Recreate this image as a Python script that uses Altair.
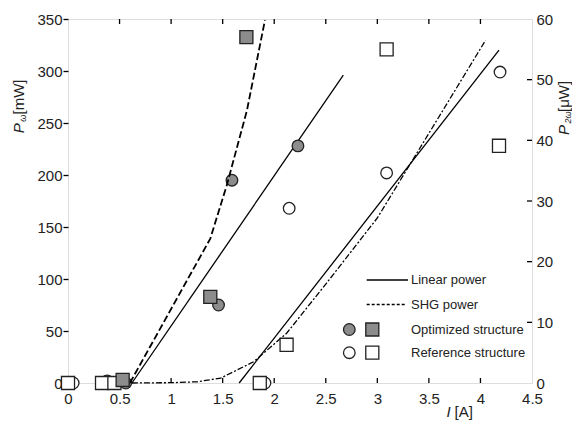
import altair as alt
import pandas as pd

# ---------------- data ----------------
# Linear (fundamental) power fits, left axis [mW]
opt_lin_x = [0.62, 2.67]
opt_lin_y = [0.0, 296.0]
ref_lin_x = [1.66, 4.18]
ref_lin_y = [0.0, 320.0]

# SHG power fits, right axis [uW]
opt_shg_x = [0.60, 1.38, 1.54, 1.735, 1.91]
opt_shg_y = [0.0, 23.8, 32.6, 44.9, 59.8]
ref_shg_x = [0.62, 1.00, 1.25, 1.48, 1.80, 2.12, 2.50, 3.00, 4.05]
ref_shg_y = [0.0, 0.05, 0.2, 0.8, 3.5, 8.2, 16.3, 27.2, 56.5]

# measured linear power (circles), left axis [mW]
opt_circ_x = [0.38, 0.56, 1.46, 1.59, 2.23]
opt_circ_y = [2.0, 0.0, 75.0, 195.0, 228.0]
ref_circ_x = [0.05, 1.91, 2.145, 3.09, 4.19]
ref_circ_y = [0.0, 0.0, 168.0, 202.0, 299.0]

# measured SHG power (squares), right axis [uW]
opt_sq_x = [0.53, 1.38, 1.73]
opt_sq_y = [0.5, 14.2, 57.0]
ref_sq_x = [0.0, 0.33, 0.45, 1.86, 2.12, 3.09, 4.18]
ref_sq_y = [0.0, 0.0, 0.0, 0.0, 6.3, 55.0, 39.1]

x_ticks = [0, 0.5, 1, 1.5, 2, 2.5, 3, 3.5, 4, 4.5]
yl_ticks = [0, 50, 100, 150, 200, 250, 300, 350]
yr_ticks = [0, 10, 20, 30, 40, 50, 60]

legend_labels = ["Linear power", "SHG power", "Optimized structure", "Reference structure"]

# ---------------- styling ----------------
FONT = "Liberation Sans"
TXT = "#222222"
GRAY = "#8c8c8c"
EDGE = "#222222"
W, H = 464, 364
LBL = dict(labelFont=FONT, labelFontSize=15, labelColor=TXT, labelFlush=False, domain=False, grid=False, title=None)

def df(x, y):
    return pd.DataFrame({"x": x, "y": y})

one = pd.DataFrame({"k": [0]})

X = alt.X("x:Q", scale=alt.Scale(domain=[0, 4.5], nice=False, zero=False),
          axis=alt.Axis(values=x_ticks, format="~g", ticks=False, labelPadding=8, **LBL))
YL = alt.Y("y:Q", scale=alt.Scale(domain=[0, 350], nice=False),
           axis=alt.Axis(values=yl_ticks, orient="left", tickSize=5, tickWidth=1.3, tickColor="black",
                         labelPadding=1, **LBL))
YR = alt.Y("y:Q", scale=alt.Scale(domain=[0, 60], nice=False),
           axis=alt.Axis(values=yr_ticks, orient="right", ticks=False, labelPadding=4, **LBL))


def line(x, y, Y, dash=None, width=1.3):
    kw = dict(color="black", strokeWidth=width)
    if dash:
        kw["strokeDash"] = dash
    return alt.Chart(df(x, y)).mark_line(**kw).encode(x=X, y=Y, order="x:Q")


def pts(x, y, Y, shape, fill, size):
    return alt.Chart(df(x, y)).mark_point(shape=shape, filled=True, fill=fill, stroke=EDGE,
                                          strokeWidth=1.3, size=size, opacity=1).encode(x=X, y=Y)


def txt(s, x, y, size=13, style="normal", angle=0, baseline="middle"):
    return alt.Chart(one).mark_text(text=s, font=FONT, fontSize=size, fontStyle=style, angle=angle,
                                    align="left", baseline=baseline, color=TXT).encode(
        x=alt.value(x), y=alt.value(y))


def vrule(x1, x2, y, dash=None, width=1.3):
    kw = dict(color="black", strokeWidth=width)
    if dash:
        kw["strokeDash"] = dash
    return alt.Chart(one).mark_rule(**kw).encode(x=alt.value(x1), x2=alt.value(x2), y=alt.value(y))


def sym(shape, fill, x, y, size):
    return alt.Chart(one).mark_point(shape=shape, filled=True, fill=fill, stroke=EDGE, strokeWidth=1.3,
                                     size=size, opacity=1).encode(x=alt.value(x), y=alt.value(y))


CIRC = 135
SQ = 170

# inward ticks on the bottom and top edges, and on the right edge
xt = pd.DataFrame({"x": x_ticks[1:-1]})
bottom_ticks = alt.Chart(xt).mark_rule(color="black", strokeWidth=1.3).encode(
    x=X, y=alt.value(H), y2=alt.value(H - 5))
top_ticks = alt.Chart(xt).mark_rule(color="black", strokeWidth=1.3).encode(
    x=X, y=alt.value(0), y2=alt.value(5))
yrt = pd.DataFrame({"y": yr_ticks[1:-1]})
right_ticks = alt.Chart(yrt).mark_rule(color="black", strokeWidth=1.3).encode(
    y=YR, x=alt.value(W), x2=alt.value(W - 5))

left = alt.layer(
    line(opt_lin_x, opt_lin_y, YL),
    line(ref_lin_x, ref_lin_y, YL),
    pts(ref_circ_x, ref_circ_y, YL, "circle", "white", CIRC),
    pts(opt_circ_x, opt_circ_y, YL, "circle", GRAY, CIRC),
    bottom_ticks,
    top_ticks,
    # legend
    vrule(298.7, 340, 261),
    vrule(298.7, 337, 285.5, dash=[3, 2]),
    sym("circle", GRAY, 281.3, 310.5, CIRC),
    sym("square", GRAY, 304.3, 310.5, SQ),
    sym("circle", "white", 281.3, 333.7, CIRC),
    sym("square", "white", 304.3, 333.7, SQ),
    txt(legend_labels[0], 343, 261),
    txt(legend_labels[1], 343, 285.5),
    txt(legend_labels[2], 343, 310.5),
    txt(legend_labels[3], 343, 333.7),
    # axis titles
    txt("P", -44.5, 114.3, size=15, style="italic", angle=270, baseline="alphabetic"),
    txt("\u03c9", -41.8, 102.8, size=9, style="italic", angle=270, baseline="alphabetic"),
    txt("[mW]", -44.5, 95.5, size=15, angle=270, baseline="alphabetic"),
    txt("P", 500.5, 116, size=15, style="italic", angle=270, baseline="alphabetic"),
    txt("2\u03c9", 503.3, 104.5, size=9, style="italic", angle=270, baseline="alphabetic"),
    txt("[\u03bcW]", 500.5, 93, size=15, angle=270, baseline="alphabetic"),
    txt("I", 378.5, 398, size=15, style="italic", baseline="alphabetic"),
    txt("[A]", 386.5, 398, size=15, baseline="alphabetic"),
)

right = alt.layer(
    line(opt_shg_x, opt_shg_y, YR, dash=[7, 3], width=1.8),
    line(ref_shg_x, ref_shg_y, YR, dash=[6, 2, 2, 2], width=1.3),
    pts(ref_sq_x, ref_sq_y, YR, "square", "white", SQ),
    pts(opt_sq_x, opt_sq_y, YR, "square", GRAY, SQ),
    right_ticks,
)

chart = alt.layer(left, right).resolve_scale(y="independent").properties(
    width=W, height=H,
    autosize=alt.AutoSizeParams(type="none"),
    padding={"left": 60, "top": 11, "right": 40, "bottom": 39},
).configure_view(stroke="black", strokeWidth=1.6).configure(background="white")

chart.save("out.html", embed_options={"renderer": "svg", "actions": False})
